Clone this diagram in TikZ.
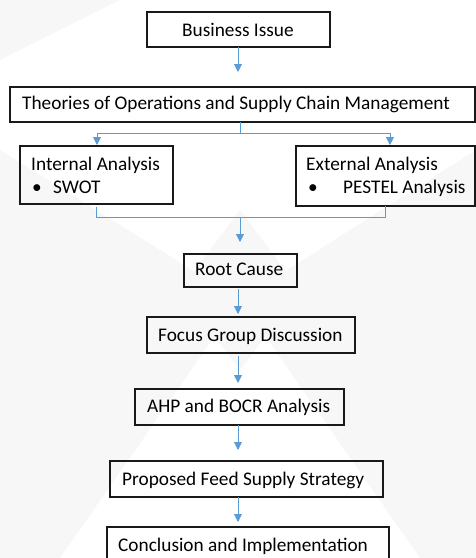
\documentclass[tikz,border=0pt]{standalone}
\usepackage{fontspec}
\setmainfont{Carlito}
\usetikzlibrary{arrows.meta}
\definecolor{flow}{HTML}{5B9BD5}
\definecolor{wm}{HTML}{F7F7F7}
\tikzset{
  box/.style={draw=black!90, line width=1.1pt, inner sep=0pt},
  lbl/.style={anchor=base west, inner sep=0pt, font=\fontsize{19.3}{22}\selectfont},
  arr/.style={draw=flow, line width=0.9pt, -{Triangle[width=8pt,length=8pt]}},
  link/.style={draw=flow, line width=0.9pt},
}
\newcommand{\boxat}[5]{% name, x0, y0, x1, y1
  \node[box, minimum width={#4-#2}, minimum height={#5-#3}] (#1) at ({(#2+#4)/2},{(#3+#5)/2}) {};}
\begin{document}
\begin{tikzpicture}[x=1pt, y=-1pt]
  \useasboundingbox (0,0) rectangle (476,558);
  \clip (0,0) rectangle (476,558);
  % faint watermark shapes
  \fill[wm] (0,60) -- (120,0) -- (0,0) -- cycle;
  \fill[wm] (0,150) -- (240,300) -- (60,558) -- (0,558) -- cycle;
  \fill[wm] (476,150) -- (240,300) -- (420,558) -- (476,558) -- cycle;
  \fill[wm] (240,210) -- (300,290) -- (240,370) -- (180,290) -- cycle;

  % boxes
  \boxat{bi}{147}{12}{330}{47}
  \boxat{th}{10}{87}{475}{122}
  \boxat{ia}{20}{146}{173}{204}
  \boxat{ea}{296}{146}{475}{206}
  \boxat{rc}{184}{254}{297}{287}
  \boxat{fg}{147}{317}{355}{353}
  \boxat{ahp}{135}{389}{344}{425}
  \boxat{pf}{110}{461}{383}{497}
  \boxat{ci}{107}{527}{389}{566}

  % texts
  \node[lbl] (tbi) at (182,36) {Business Issue};
  \node[lbl] (tth) at (22,109) {Theories of Operations and Supply Chain Management};
  \node[lbl] (tia) at (31,170) {Internal Analysis};
  \node[lbl] (bia) at (32,193) {•};
  \node[lbl] (sia) at (53,193) {SWOT};
  \node[lbl] (tea) at (306,170) {External Analysis};
  \node[lbl] (bea) at (308,193) {•};
  \node[lbl] (sea) at (343,193) {PESTEL Analysis};
  \node[lbl] (trc) at (195,275) {Root Cause};
  \node[lbl] (tfg) at (158,341) {Focus Group Discussion};
  \node[lbl] (tahp) at (147,412) {AHP and BOCR Analysis};
  \node[lbl] (tpf) at (122,485) {Proposed Feed Supply Strategy};
  \node[lbl] (tci) at (118,551) {Conclusion and Implementation};

  % junction points
  \coordinate (split) at (240,133);
  \coordinate (join) at (240,217);
  \coordinate (iaj) at (96,217);
  \coordinate (eaj) at (385,217);

  % connectors
  \draw[arr, shorten >=15pt] (238,47) -- (238,87);
  \draw[link] (240,122) -- (split);
  \draw[link] (97,133) -- (390,133);
  \draw[arr, shorten >=1pt] (97,133) -- (97,146);
  \draw[arr, shorten >=1pt] (390,133) -- (390,146);
  \draw[link] (96,207) -- (iaj) -- (eaj) -- (385,206);
  \draw[arr, shorten >=12pt] (join) -- (240,254);
  \draw[arr, shorten <=2pt, shorten >=3pt] (238,287) -- (238,317);
  \draw[arr, shorten <=3pt, shorten >=6pt] (238,353) -- (238,389);
  \draw[arr, shorten >=11pt] (238,425) -- (238,461);
  \draw[arr, shorten >=5pt] (238,497) -- (238,527);
\end{tikzpicture}
\end{document}
